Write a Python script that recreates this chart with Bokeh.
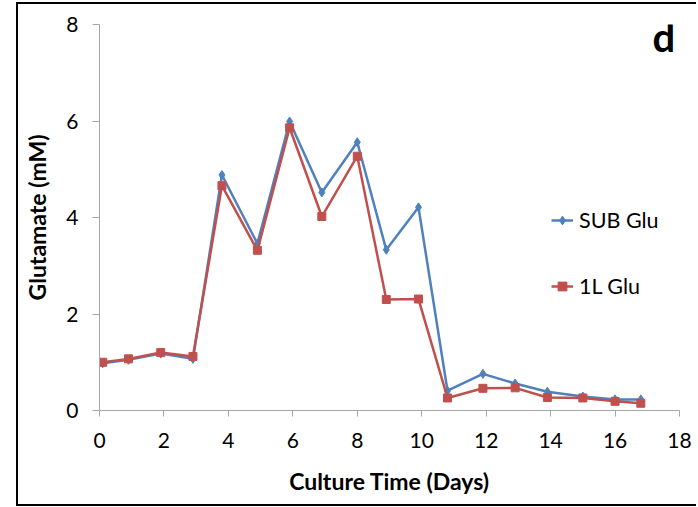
from bokeh.plotting import figure
from bokeh.models import ColumnDataSource, Legend, LegendItem, FixedTicker, Label
from bokeh.embed import file_html
from bokeh.resources import INLINE

# Glutamate concentration over culture time for two bioreactor scales
days = [0.1, 0.9, 1.9, 2.9, 3.8, 4.9, 5.9, 6.9, 8.0, 8.9, 9.9, 10.8, 11.9, 12.9, 13.9, 15.0, 16.0, 16.8]
sub_glu = [0.98, 1.05, 1.18, 1.07, 4.88, 3.46, 5.99, 4.52, 5.56, 3.33, 4.21, 0.41, 0.76, 0.56, 0.39, 0.29, 0.23, 0.23]
l1_glu = [1.00, 1.07, 1.20, 1.12, 4.66, 3.32, 5.86, 4.02, 5.27, 2.30, 2.31, 0.26, 0.46, 0.47, 0.27, 0.26, 0.19, 0.15]
series_names = ["SUB Glu", "1L Glu"]
x_ticks = [0, 2, 4, 6, 8, 10, 12, 14, 16, 18]
y_ticks = [0, 2, 4, 6, 8]
panel_tag = "d"

BLUE = "#4F81BD"
RED = "#C0504D"
FONT = "Lato"
AXIS_GREY = "#A6A6A6"

src = ColumnDataSource(dict(day=days, sub=sub_glu, l1=l1_glu))

p = figure(width=680, height=504, x_range=(0, 18), y_range=(0, 8),
           output_backend="svg", toolbar_location=None,
           min_border_left=81, min_border_right=19,
           min_border_top=20, min_border_bottom=98)
p.styles = {"margin-left": "16px", "margin-top": "2px",
            "border-left": "2px solid black", "border-top": "2px solid black",
            "border-bottom": "2px solid black"}
p.outline_line_color = None
p.grid.visible = False
p.background_fill_color = "white"
p.border_fill_color = "white"

for ax in (p.xaxis[0], p.yaxis[0]):
    ax.axis_line_color = AXIS_GREY
    ax.major_tick_line_color = AXIS_GREY
    ax.minor_tick_line_color = None
    ax.major_tick_in = 0
    ax.major_label_text_font = FONT
    ax.major_label_text_font_size = "21px"
    ax.major_label_text_color = "black"
    ax.axis_label_text_font = FONT
    ax.axis_label_text_font_style = "bold"
    ax.axis_label_text_font_size = "23px"
    ax.axis_label_text_color = "black"

p.xaxis.ticker = FixedTicker(ticks=x_ticks)
p.yaxis.ticker = FixedTicker(ticks=y_ticks)
p.xaxis.major_tick_out = 6
p.yaxis.major_tick_out = 7
p.yaxis.major_label_standoff = 14
p.xaxis.major_label_standoff = 16
p.xaxis.axis_label = "Culture Time (Days)"
p.yaxis.axis_label = "Glutamate (mM)"
p.xaxis.axis_label_standoff = 16
p.yaxis.axis_label_standoff = 12

l_sub = p.line("day", "sub", source=src, line_color=BLUE, line_width=2.5)
m_sub = p.scatter("day", "sub", source=src, marker="diamond", size=9,
                  fill_color=BLUE, line_color=BLUE)
l_l1 = p.line("day", "l1", source=src, line_color=RED, line_width=2.5)
m_l1 = p.scatter("day", "l1", source=src, marker="square", size=8,
                 fill_color=RED, line_color=RED)

legend = Legend(items=[LegendItem(label=series_names[0], renderers=[l_sub, m_sub]),
                       LegendItem(label=series_names[1], renderers=[l_l1, m_l1])],
                location=(452, 111), orientation="vertical",
                border_line_color=None, background_fill_alpha=0,
                padding=0, margin=0, spacing=40,
                glyph_width=22, glyph_height=22, label_height=22,
                label_standoff=6,
                label_text_font=FONT, label_text_font_size="21.5px",
                label_text_color="black")
p.add_layout(legend)

# panel letter in the top-right corner (screen units relative to the frame)
p.add_layout(Label(x=553, y=374, x_units="screen", y_units="screen",
                   text=panel_tag, text_font=FONT, text_font_style="bold",
                   text_font_size="40px", text_color="black",
                   text_baseline="alphabetic", text_align="left"))

open("out.html", "w").write(file_html(p, INLINE))
